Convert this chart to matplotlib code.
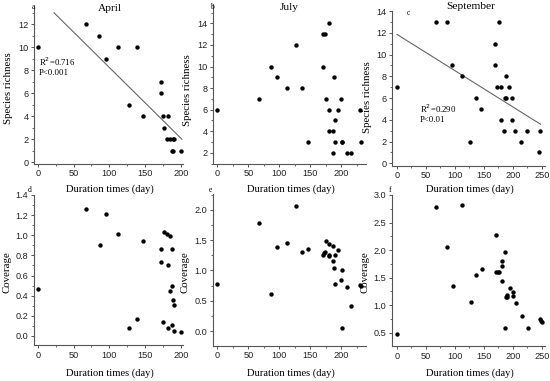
import matplotlib
matplotlib.use("Agg")
import matplotlib.pyplot as plt
import numpy as np
from matplotlib.ticker import MultipleLocator

# ---------------- data ----------------
apr_sr_x = [0, 67.7, 86, 95.7, 112.5, 138.7, 128, 147, 171.8, 171.8, 174.6, 181.6, 176.5,
            180.7, 185, 189, 191, 187, 189, 200.7]
apr_sr_y = [10, 12, 11, 9, 10, 10, 5, 4, 7, 6, 4, 4, 3, 2, 2, 2, 2, 1, 1, 1]

jul_sr_x = [0, 66.5, 86, 95.7, 112.4, 127, 136.8, 146.5, 170.8, 170.8, 173.5, 175.7, 180,
            180.5, 180.5, 187, 186, 187.6, 189.7, 189.7, 194.6, 200, 200.5, 202, 209, 215,
            230.8, 232]
jul_sr_y = [6, 7, 10, 9, 8, 12, 8, 3, 10, 13, 13, 7, 14, 6, 4, 4, 2, 9, 5, 3, 6, 7, 3, 3,
            2, 2, 6, 3]

sep_sr_x = [0, 66.7, 86.2, 95.4, 111.5, 127, 136, 145.4, 169.5, 169.5, 173.6, 175.9, 180,
            180, 185, 187.4, 189, 189, 193.7, 199.4, 199.4, 204, 215, 224, 244.8, 247]
sep_sr_y = [7, 13, 13, 9, 8, 2, 6, 5, 11, 9, 7, 13, 7, 4, 3, 6, 6, 8, 7, 6, 4, 3, 2, 3, 1, 3]

apr_cv_x = [0, 67.7, 86.4, 95.7, 112.5, 128, 138.7, 147, 171.8, 171.8, 174.6, 176.5, 180.7,
            181.6, 182, 184.4, 185, 187, 187.7, 188, 189, 190, 191, 200.7]
apr_cv_y = [0.47, 1.26, 0.90, 1.21, 1.01, 0.083, 0.17, 0.94, 0.86, 0.73, 0.14, 1.03, 1.01,
            0.70, 0.076, 0.99, 0.45, 0.11, 0.86, 0.50, 0.36, 0.05, 0.31, 0.04]

jul_cv_x = [0, 66.5, 86, 95.7, 112.4, 127, 136.8, 146.5, 170.8, 172.4, 173.5, 175.7, 180,
            180.5, 181, 186, 187, 187.6, 189.7, 189.7, 194.6, 200, 200.5, 202, 209, 215,
            230.8, 232]
jul_cv_y = [0.78, 1.78, 0.62, 1.38, 1.46, 2.06, 1.31, 1.35, 1.25, 1.29, 1.31, 1.49, 1.43,
            1.25, 1.24, 1.40, 1.15, 1.04, 1.25, 0.77, 1.33, 0.85, 0.05, 1.0, 0.72, 0.41,
            0.76, 0.75]

sep_cv_x = [0, 67, 86.8, 96, 112, 128, 137, 146.4, 170.7, 171.3, 174.8, 177, 181, 181, 181,
            186.3, 187, 188.6, 190.4, 190.4, 195, 200.8, 200.8, 205.4, 216.4, 225.7, 246.5,
            248.3, 250]
sep_cv_y = [0.48, 2.79, 2.05, 1.34, 2.81, 1.06, 1.55, 1.66, 2.28, 1.60, 1.61, 1.61, 1.80,
            1.71, 1.44, 1.96, 0.59, 1.14, 1.18, 1.15, 1.31, 1.24, 1.17, 1.04, 0.80, 0.59,
            0.75, 0.72, 0.70]

# regression lines (intercept, slope, x-start, x-end)
apr_fit = [14.4, -0.0615, 22.8, 201.5]
sep_fit = [11.85, -0.0333, 0, 248]

titles = ["April", "July", "September"]
letters = ["a", "b", "c", "d", "e", "f"]
xlabel = "Duration times (day)"
ylabels = ["Species richness", "Coverage"]
stats_a = ["R$^2$=0.716", "P<0.001"]
stats_c = ["R$^2$=0.290", "P<0.01"]

# ---------------- layout ----------------
W, H = 550, 381
fig = plt.figure(figsize=(W / 100, H / 100), dpi=100)

def rect(l, t, r, b):
    return [l / W, 1 - b / H, (r - l) / W, (b - t) / H]

def fx(px):
    return px / W

def fy(py):
    return 1 - py / H

SERIF = ["Liberation Serif", "DejaVu Serif"]
SANS = ["Liberation Sans", "DejaVu Sans"]
spine_c = "#555555"

boxes = [(34, 7, 183, 163.5), (213, 4, 366, 163.5), (392, 11, 545, 165.5),
         (34, 195, 183, 345.3), (213, 194, 366, 345.7), (392, 195, 545, 346)]

panels = [
    dict(x=apr_sr_x, y=apr_sr_y, xlim=(-5.2, 203), ylim=(-0.1, 13.5), ymaj=2, ymin=1, yt=(0, 12)),
    dict(x=jul_sr_x, y=jul_sr_y, xlim=(-7, 240), ylim=(1.0, 15.8), ymaj=2, ymin=1, yt=(2, 14)),
    dict(x=sep_sr_x, y=sep_sr_y, xlim=(-8.6, 255.7), ylim=(-0.2, 14.0), ymaj=2, ymin=1, yt=(0, 14)),
    dict(x=apr_cv_x, y=apr_cv_y, xlim=(-5.2, 203), ylim=(-0.093, 1.4), ymaj=0.2, ymin=0.1, yt=(0, 1.4)),
    dict(x=jul_cv_x, y=jul_cv_y, xlim=(-7, 240), ylim=(-0.24, 2.26), ymaj=0.5, ymin=0.25, yt=(0, 2.0)),
    dict(x=sep_cv_x, y=sep_cv_y, xlim=(-8.6, 255.7), ylim=(0.258, 3.0), ymaj=0.5, ymin=0.25, yt=(0.5, 3.0)),
]

axes = []
for i, (p, b) in enumerate(zip(panels, boxes)):
    ax = fig.add_axes(rect(*b))
    axes.append(ax)
    ax.scatter(p["x"], p["y"], s=10, color="black", zorder=3, linewidths=0)
    ax.xaxis.set_major_locator(MultipleLocator(50))
    ax.xaxis.set_minor_locator(MultipleLocator(25))
    lo, hi = p["yt"]
    ax.set_yticks(np.round(np.arange(lo, hi + 1e-9, p["ymaj"]), 3))
    ax.yaxis.set_minor_locator(MultipleLocator(p["ymin"]))
    ax.set_xlim(*p["xlim"])
    ax.set_ylim(*p["ylim"])
    for s in ["top", "right"]:
        ax.spines[s].set_visible(False)
    for s in ["left", "bottom"]:
        ax.spines[s].set_color(spine_c)
        ax.spines[s].set_linewidth(0.8)
    ax.tick_params(which="major", direction="out", length=2.5, width=0.7, color=spine_c,
                   labelsize=6.6, labelcolor="#222222", pad=1.5)
    ax.tick_params(which="minor", direction="out", length=1.5, width=0.6, color=spine_c)
    for lab in ax.get_xticklabels() + ax.get_yticklabels():
        lab.set_fontfamily(SANS)

# titles
title_pos = [(109.5, 8.3), (289.5, 7.3), (471, 6.7)]
for t, (px, py) in zip(titles, title_pos):
    fig.text(fx(px), fy(py), t, fontfamily=SERIF, fontsize=8.2, ha="center", va="center")

# x labels
for b in boxes:
    cy = 189.5 if b[1] < 100 else 373
    fig.text(fx((b[0] + b[2]) / 2 + 1), fy(cy), xlabel, fontfamily=SERIF, fontsize=7.6,
             ha="center", va="center")

# y labels
ylab_pos = [(9, 88), (188, 90), (368, 97), (7, 272), (185, 272), (365, 272)]
for i, (px, py) in enumerate(ylab_pos):
    fig.text(fx(px), fy(py), ylabels[i // 3], fontfamily=SERIF, fontsize=7.8,
             ha="center", va="center", rotation=90)

# panel letters (figure pixel coords)
letter_pos = [(33, 7), (212, 7), (408, 13), (30, 190), (210, 190), (390, 190)]
for lt, (px, py) in zip(letters, letter_pos):
    fig.text(fx(px), fy(py), lt, fontfamily=SERIF, fontsize=5.5, ha="center", va="center")

# regression lines
for ax, f in [(axes[0], apr_fit), (axes[2], sep_fit)]:
    xs = np.array([f[2], f[3]])
    ax.plot(xs, f[0] + f[1] * xs, color="#666666", lw=0.8, zorder=2)

# statistics text (figure pixel coords)
fig.text(fx(39), fy(62), stats_a[0], fontfamily=SERIF, fontsize=6.3, va="center")
fig.text(fx(39), fy(73), stats_a[1], fontfamily=SERIF, fontsize=6.3, va="center")
fig.text(fx(420), fy(109), stats_c[0], fontfamily=SERIF, fontsize=6.3, va="center")
fig.text(fx(420), fy(120), stats_c[1], fontfamily=SERIF, fontsize=6.3, va="center")

fig.savefig("out.png", dpi=100)
